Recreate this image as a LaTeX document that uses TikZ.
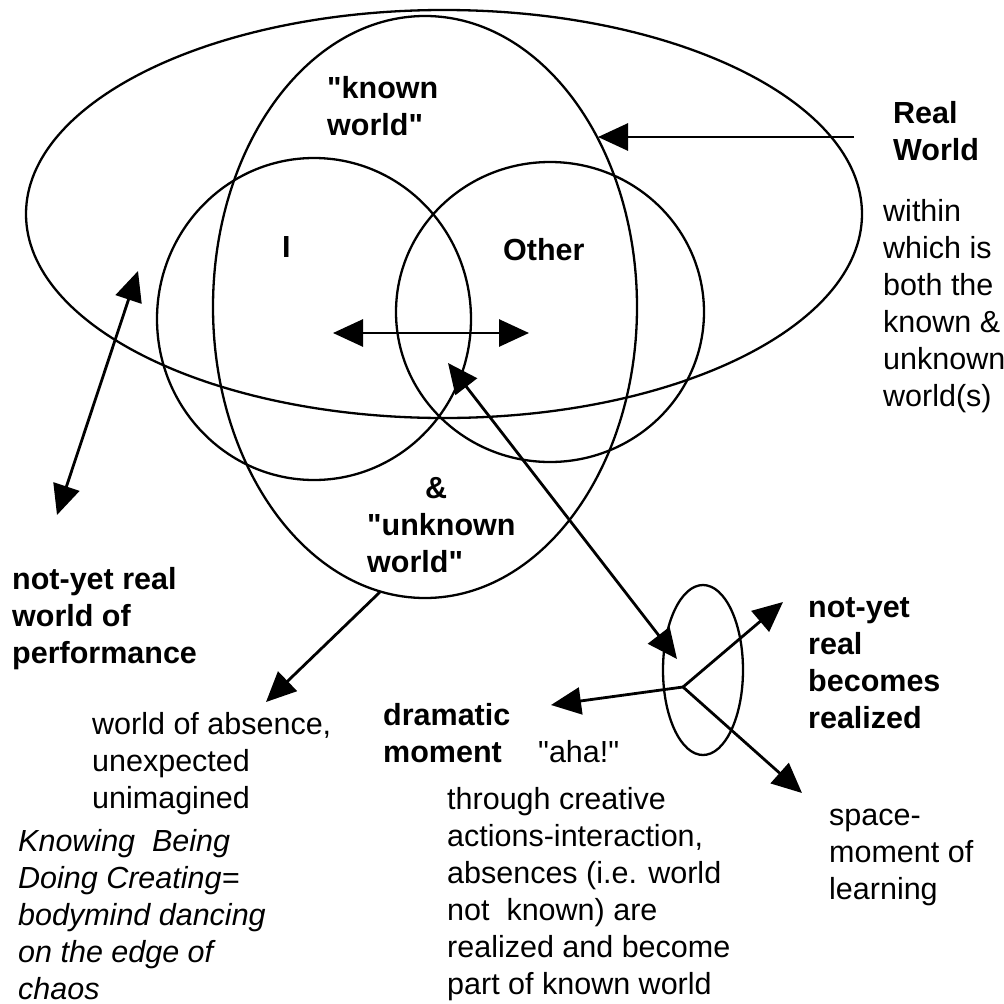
\documentclass[tikz,border=0pt]{standalone}
\usepackage{fontspec}
\newfontfamily\helv{Liberation Sans}
\usetikzlibrary{arrows.meta}

\begin{document}
\begin{tikzpicture}[x=1pt,y=-1pt,
    oval/.style={line width=2.3pt},
    onearrow/.style={line width=2.8pt,-{Triangle[length=30pt,width=27pt]}},
    twoarrow/.style={line width=2.8pt,{Triangle[length=30pt,width=27pt]}-{Triangle[length=30pt,width=27pt]}},
    plain/.style={anchor=base west,inner sep=0pt,align=left,font=\helv\fontsize{30.5}{37}\selectfont},
    heavy/.style={plain,font=\helv\fontsize{30.5}{37}\selectfont\bfseries},
    slant/.style={plain,font=\helv\fontsize{30.5}{37}\selectfont\itshape}]
			\useasboundingbox (0,0) rectangle (1004,1004);
			
			\coordinate (realworld) at (444,214);
			\coordinate (knownworld) at (425,307);
			\coordinate (self) at (314,319);
			\coordinate (other) at (550,312);
			\coordinate (moment) at (703,670);
			
			\draw[oval] (realworld) ellipse [x radius=418pt, y radius=204pt];
			\draw[oval] (knownworld) ellipse [x radius=212pt, y radius=291pt];
			\draw[oval] (self) ellipse [x radius=157pt, y radius=161pt];
			\draw[oval] (other) ellipse [x radius=154pt, y radius=150pt];
			\draw[oval] (moment) ellipse [x radius=40pt, y radius=85pt];
			
			\coordinate (realfrom) at (854,137);
			\coordinate (realtip) at (598,137);
			\coordinate (selftip) at (333,333);
			\coordinate (othertip) at (529,333);
			\coordinate (perfup) at (138,271);
			\coordinate (perfdown) at (57,515);
			\coordinate (linkup) at (448,363);
			\coordinate (linkdown) at (677,659);
			\coordinate (absfrom) at (380,592);
			\coordinate (abstip) at (266,702);
			\coordinate (hub) at (683,687);
			\coordinate (realizedtip) at (783,602);
			\coordinate (learningtip) at (802,793);
			\coordinate (dramatictip) at (551,705);
			
			\draw[onearrow] (realfrom) -- (realtip);
			\draw[twoarrow] (selftip) -- (othertip);
			\draw[twoarrow] (perfup) -- (perfdown);
			\draw[twoarrow] (linkup) -- (linkdown);
			\draw[onearrow] (absfrom) -- (abstip);
			\draw[onearrow] (hub) -- (realizedtip);
			\draw[onearrow] (hub) -- (learningtip);
			\draw[onearrow] (hub) -- (dramatictip);
			
			% multi-line labels sit on the baseline of their last line
			\node[heavy] (knownlabel) at (327,135) {"known\\world"};
			\node[heavy] (selflabel) at (282,257) {I};
			\node[heavy] (otherlabel) at (503,260) {Other};
			\node[heavy] (unknownlabel) at (367,572) {\hspace*{58pt}\&\\"unknown\\world"};
			\node[heavy] (reallabel) at (893,160) {Real\\World};
			\node[plain] (withinlabel) at (883,406) {within\\which is\\both the\\known \&\\unknown\\world(s)};
			\node[heavy] (perflabel) at (12,663) {not-yet real\\world of\\performance};
			\node[plain] (absencelabel) at (92,808) {world of absence,\\unexpected\\unimagined};
			\node[slant] (knowinglabel) at (18,999) {Knowing\ \ Being\\Doing Creating=\\bodymind dancing\\on the edge of\\chaos};
			\node[heavy] (dramaticlabel) at (383,762) {dramatic\\moment};
			\node[plain] (ahalabel) at (538,762) {"aha!"};
			\node[plain] (throughlabel) at (447,994) {through creative\\actions-interaction,\\absences (i.e. world\\not\ \ known) are\\realized and become\\part of known world};
			\node[heavy] (realizedlabel) at (808,728) {not-yet\\real\\becomes\\realized};
			\node[plain] (learninglabel) at (829,899) {space-\\moment of\\learning};
		\end{tikzpicture}
\end{document}
